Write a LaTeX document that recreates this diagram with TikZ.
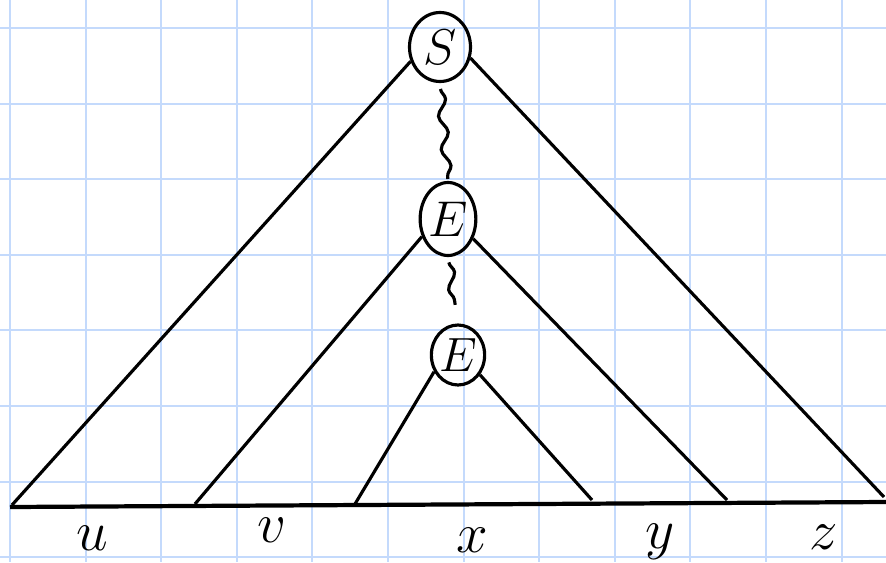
\documentclass[tikz,border=0pt]{standalone}
\usepackage{tikz}
\usetikzlibrary{shapes.geometric,decorations.pathmorphing,calc}
\definecolor{gridblue}{RGB}{196,218,252}

\begin{document}
\begin{tikzpicture}[x=0.02cm, y=-0.02cm,
        gridline/.style={draw=gridblue, line width=1.1pt},
        var/.style={draw, ellipse, line width=1.8pt, inner sep=0pt, font=\Huge},
        edge/.style={line width=1.8pt},
        base/.style={line width=2.4pt},
        derive/.style={line width=1.8pt, decorate, decoration={snake, amplitude=2.4pt, segment length=19pt}},
        word/.style={font=\Huge, scale=1.3}
    ]
        \useasboundingbox (0,0) rectangle (886,562);
        % squared paper
        \foreach \i in {0,...,11} \draw[gridline] ({10+75.6*\i},0) -- ({10+75.6*\i},562);
        \foreach \j in {0,...,7} \draw[gridline] (0,{28+75.6*\j}) -- (886,{28+75.6*\j});

        \node[var, minimum width=1.22cm, minimum height=1.38cm] (S) at (440,47) {\scalebox{1.15}{$S$}};
        \node[var, minimum width=1.02cm, minimum height=1.46cm] (E1) at (448,219) {\scalebox{1.15}{$E$}};
        \node[var, minimum width=0.9cm, minimum height=1.2cm] (E2) at (458,355) {\scalebox{1.1}{$E$}};

        \coordinate (b0) at (10,507);
        \coordinate (b1) at (886,502);
        \coordinate (uL) at (12,505);
        \coordinate (vL) at (195,504);
        \coordinate (xL) at (355,504);
        \coordinate (xR) at (592,500);
        \coordinate (yR) at (727,500);
        \coordinate (zR) at (884,497);

        \draw[base] (b0) -- (b1);

        \draw[edge] (S.206) -- (uL);
        \draw[edge] (S.340) -- (zR);
        \draw[edge] (E1.214) -- (vL);
        \draw[edge] (E1.322) -- (yR);
        \draw[edge] (E2.215) -- (xL);
        \draw[edge] (E2.318) -- (xR);

        \draw[derive] ($(S.south)!0.06!(E1.north)$) -- ($(E1.north)!0.02!(S.south)$);
        \draw[derive] ($(E1.south)!0.08!(E2.north)$) -- ($(E2.north)!0.28!(E1.south)$);

        \node[word] (u) at (92,538) {$u$};
        \node[word] (v) at (272,530) {$v$};
        \node[word] (x) at (472,540) {$x$};
        \node[word] (y) at (660,542) {$y$};
        \node[word] (z) at (824,537) {$z$};
    \end{tikzpicture}
\end{document}
